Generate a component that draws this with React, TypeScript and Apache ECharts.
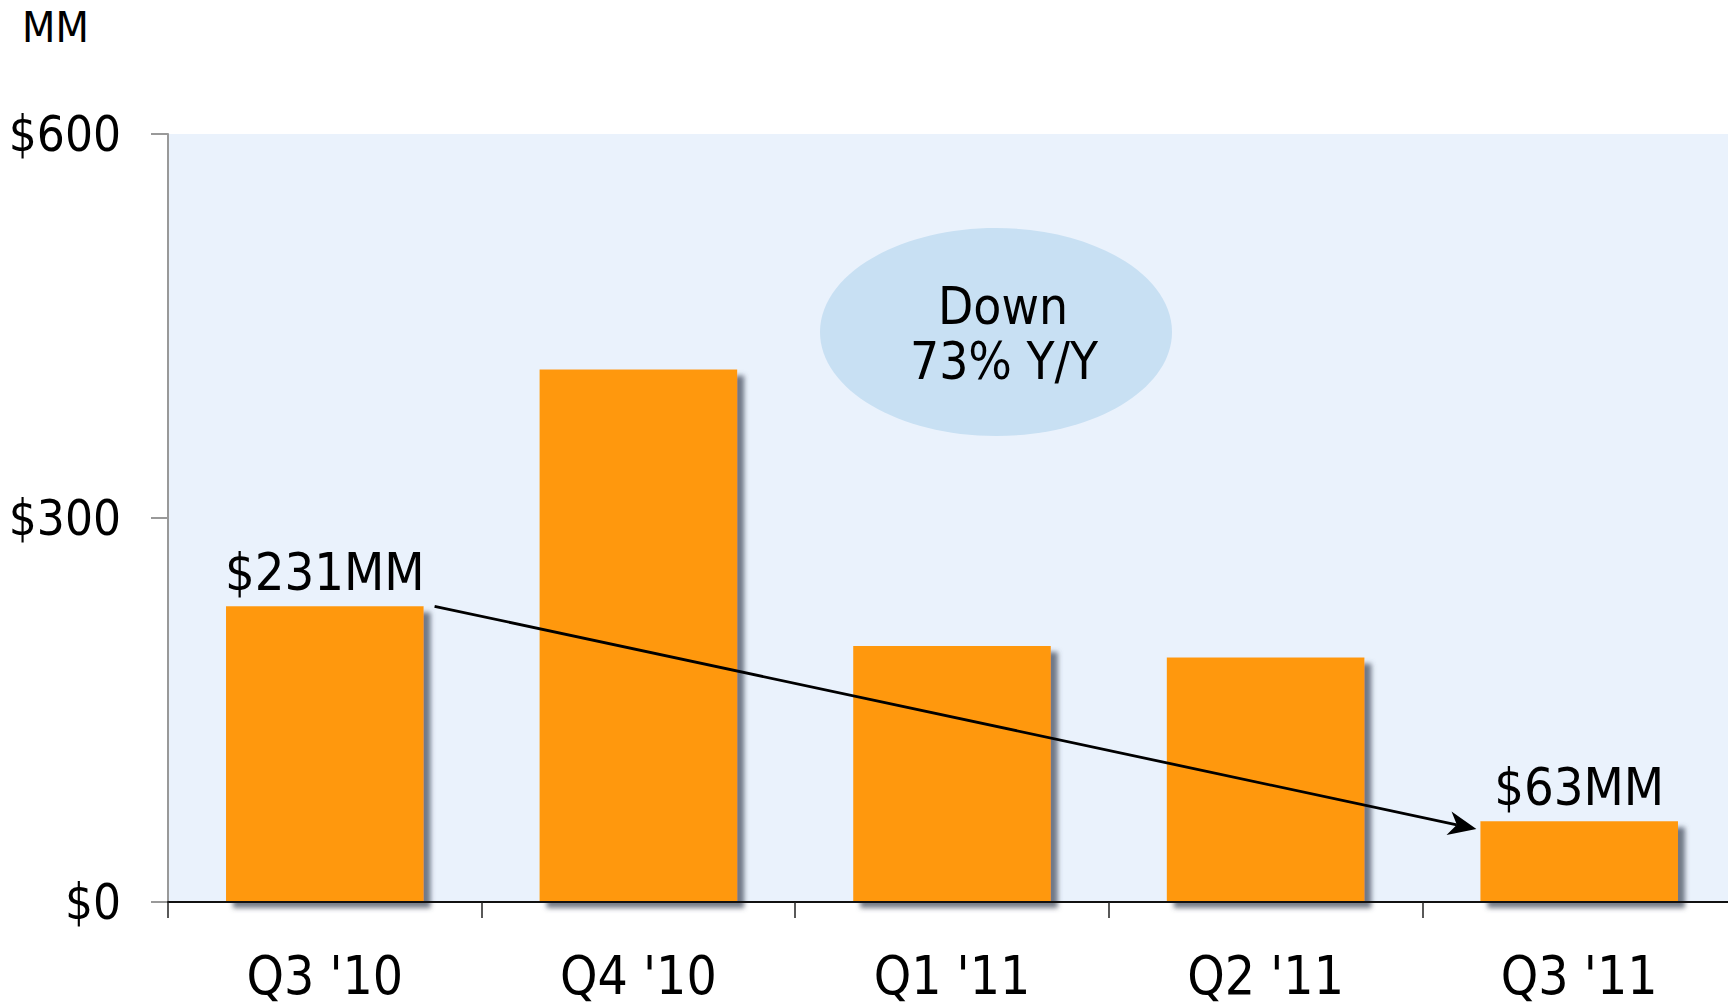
import React, { useEffect, useRef } from "react";
import * as echarts from "echarts";

const categories = ["Q3 '10", "Q4 '10", "Q1 '11", "Q2 '11", "Q3 '11"];
const values = [231, 416, 200, 191, 63];
const yTicks = [0, 300, 600];
const labelledBars = [0, 4];
const arrowEndValue = 57;

const FONT = 'Tahoma, "DejaVu Sans Condensed", "DejaVu Sans", sans-serif';

export default function App() {
  const ref = useRef<HTMLDivElement>(null);
  useEffect(() => {
    if (!ref.current) return;
    const chart = echarts.init(ref.current, undefined, { renderer: "svg" });
    const option: any = {
      animation: false,
      backgroundColor: "#ffffff",
      textStyle: { fontFamily: FONT },
      grid: {
        left: 168,
        right: 0,
        top: 134,
        bottom: 106,
        show: true,
        backgroundColor: "#EAF2FC",
        borderWidth: 0,
      },
      xAxis: {
        type: "category",
        data: categories,
        axisLine: { lineStyle: { color: "#111111", width: 2 } },
        axisTick: { show: true, length: 16, lineStyle: { color: "#222222", width: 1.5 } },
        axisLabel: { fontSize: 53, color: "#000", margin: 47, fontFamily: FONT },
        z: 5,
      },
      yAxis: {
        type: "value",
        min: 0,
        max: 600,
        interval: 300,
        splitLine: { show: false },
        axisLine: { show: true, lineStyle: { color: "#999999", width: 2 } },
        axisTick: { show: true, length: 17, lineStyle: { color: "#999999", width: 2 } },
        axisLabel: {
          fontSize: 49,
          color: "#000",
          margin: 47,
          fontFamily: FONT,
          formatter: (v: number) => (yTicks.includes(v) ? "$" + v : ""),
        },
      },
      series: [
        {
          type: "bar",
          barWidth: "63%",
          data: values.map((v, i) => ({
            value: v,
            label: labelledBars.includes(i)
              ? {
                  show: true,
                  position: "top",
                  distance: 8,
                  fontSize: 52,
                  color: "#000",
                  fontFamily: FONT,
                  formatter: "$" + v + "MM",
                }
              : { show: false },
          })),
          itemStyle: {
            color: "#FF980E",
            shadowColor: "rgba(70,80,95,0.75)",
            shadowBlur: 5,
            shadowOffsetX: 7,
            shadowOffsetY: 6,
          },
        },
      ],
    };
    chart.setOption(option);

    // arrow from right of first bar to left of last bar, computed via the axes
    const first = chart.convertToPixel({ gridIndex: 0 }, [0, values[0]]) as number[];
    const last = chart.convertToPixel({ gridIndex: 0 }, [4, arrowEndValue]) as number[];
    const second = chart.convertToPixel({ gridIndex: 0 }, [1, 0]) as number[];
    const band = second[0] - first[0];
    const halfBar = (band * 0.63) / 2;
    const x1 = first[0] + halfBar + 11;
    const y1 = first[1];
    const x2 = last[0] - halfBar - 4;
    const y2 = last[1];
    const dx = x2 - x1,
      dy = y2 - y1;
    const len = Math.sqrt(dx * dx + dy * dy);
    const ux = dx / len,
      uy = dy / len;
    const px = -uy,
      py = ux;
    const headLen = 28,
      headW = 12,
      notch = 20;
    const bx = x2 - ux * headLen,
      by = y2 - uy * headLen;
    const nx = x2 - ux * notch,
      ny = y2 - uy * notch;

    chart.setOption({
      graphic: [
        {
          type: "text",
          left: 22,
          top: 5,
          style: { text: "MM", fontSize: 43, fill: "#000", fontFamily: FONT },
        },
        {
          type: "ellipse",
          shape: { cx: 996, cy: 332, rx: 176, ry: 104 },
          style: { fill: "#C8E0F3" },
          z: 10,
        },
        {
          type: "text",
          x: 1003,
          y: 306,
          style: {
            text: "Down",
            fontSize: 51,
            fill: "#000",
            fontFamily: FONT,
            align: "center",
            verticalAlign: "middle",
          },
          z: 11,
        },
        {
          type: "text",
          x: 1004,
          y: 361,
          style: {
            text: "73% Y/Y",
            fontSize: 51,
            fill: "#000",
            fontFamily: FONT,
            align: "center",
            verticalAlign: "middle",
          },
          z: 11,
        },
        {
          type: "line",
          shape: { x1, y1, x2: nx, y2: ny },
          style: { stroke: "#000", lineWidth: 2.8 },
          z: 12,
        },
        {
          type: "polygon",
          shape: {
            points: [
              [x2, y2],
              [bx + px * headW, by + py * headW],
              [nx, ny],
              [bx - px * headW, by - py * headW],
            ],
          },
          style: { fill: "#000" },
          z: 12,
        },
      ],
    });

    return () => chart.dispose();
  }, []);
  return (
    <div style={{ width: 1728, height: 1008, overflow: "hidden", position: "absolute", left: 0, top: 0 }}>
      <div ref={ref} style={{ width: 1736, height: 1008 }} />
    </div>
  );
}
